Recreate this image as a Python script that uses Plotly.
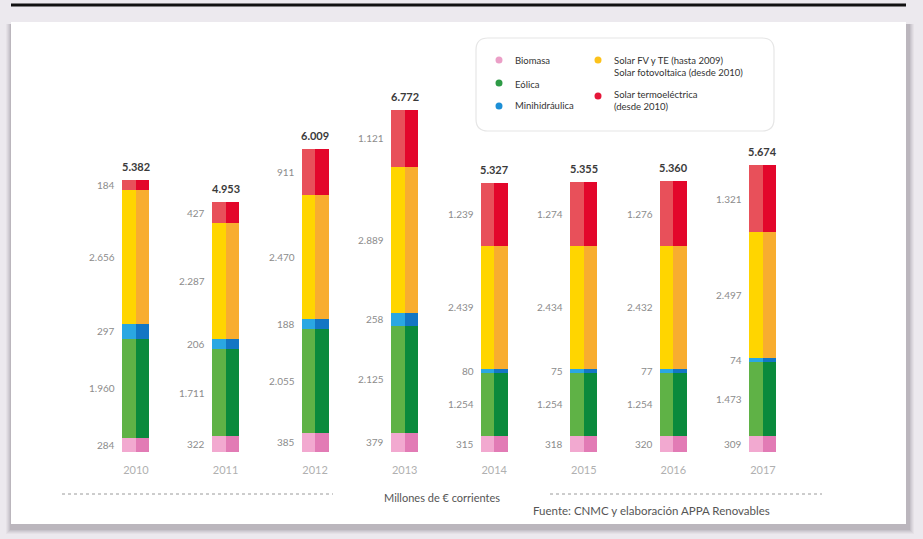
import plotly.graph_objects as go

# Retribución por tecnología, millones de € corrientes
years = ["2010", "2011", "2012", "2013", "2014", "2015", "2016", "2017"]
biomasa = [284, 322, 385, 379, 315, 318, 320, 309]
eolica = [1960, 1711, 2055, 2125, 1254, 1254, 1254, 1473]
minihidraulica = [297, 206, 188, 258, 80, 75, 77, 74]
solar_fv = [2656, 2287, 2470, 2889, 2439, 2434, 2432, 2497]
solar_termo = [184, 427, 911, 1121, 1239, 1274, 1276, 1321]
totals = [5382, 4953, 6009, 6772, 5327, 5355, 5360, 5674]

series = [
    ("Biomasa", biomasa, "#f2a9d0", "#e27bb5"),
    ("Eólica", eolica, "#5fb246", "#0a8a3c"),
    ("Minihidráulica", minihidraulica, "#2aa7e2", "#1376c4"),
    ("Solar FV", solar_fv, "#ffd500", "#f8ad2f"),
    ("Solar termoeléctrica", solar_termo, "#e8505a", "#e3062b"),
]

W, H = 923, 539
FONT = "Lato, 'Open Sans', sans-serif"


def px(x):
    return x / W


def py(y):
    return 1 - y / H


xs = list(range(len(years)))
half = 0.1507  # half bar width in axis units

fig = go.Figure()
bases = [0] * len(years)
annotations = []
for name, vals, c_left, c_right in series:
    for off, col in ((-half, c_left), (0, c_right)):
        fig.add_trace(go.Bar(
            x=xs, y=vals, base=list(bases), width=half, offset=off,
            marker=dict(color=col, line=dict(width=0)),
            name=name, showlegend=False, hoverinfo="skip",
        ))
    for i, v in enumerate(vals):
        annotations.append(dict(
            x=i - half, y=bases[i] + v / 2, xref="x", yref="y",
            text=f"{v:,}".replace(",", "."), showarrow=False,
            xanchor="right", yanchor="middle", xshift=-5,
            font=dict(family=FONT, size=10, color="#8c8c8c"),
        ))
    bases = [b + v for b, v in zip(bases, vals)]

for i, t in enumerate(totals):
    annotations.append(dict(
        x=i, y=t, xref="x", yref="y", text=f"<b>{t:,}</b>".replace(",", "."),
        showarrow=False, xanchor="center", yanchor="bottom", yshift=5,
        font=dict(family=FONT, size=11, color="#3a3a3a"),
    ))

shapes = []
# card shadow
for k, op in enumerate([0.05, 0.06, 0.07, 0.09, 0.11]):
    g = 5 - k
    shapes.append(dict(
        type="rect", xref="paper", yref="paper", layer="below",
        x0=px(11 - g), x1=px(906 + g + 3), y0=py(22 + 2), y1=py(524 + g + 5),
        fillcolor=f"rgba(90,85,95,{op})", line=dict(width=0),
    ))
# white card
shapes.append(dict(
    type="rect", xref="paper", yref="paper", layer="below",
    x0=px(11), x1=px(906), y0=py(22), y1=py(524),
    fillcolor="white", line=dict(width=0),
))
# top rule
shapes.append(dict(
    type="line", xref="paper", yref="paper",
    x0=px(11), x1=px(906), y0=py(5), y1=py(5),
    line=dict(color="#111111", width=3),
))
# legend box with rounded corners
lx0, lx1, ly0, ly1, r = 476, 774, 38, 131, 12
path = (f"M {px(lx0 + r)},{py(ly0)} L {px(lx1 - r)},{py(ly0)} "
        f"Q {px(lx1)},{py(ly0)} {px(lx1)},{py(ly0 + r)} "
        f"L {px(lx1)},{py(ly1 - r)} Q {px(lx1)},{py(ly1)} {px(lx1 - r)},{py(ly1)} "
        f"L {px(lx0 + r)},{py(ly1)} Q {px(lx0)},{py(ly1)} {px(lx0)},{py(ly1 - r)} "
        f"L {px(lx0)},{py(ly0 + r)} Q {px(lx0)},{py(ly0)} {px(lx0 + r)},{py(ly0)} Z")
shapes.append(dict(type="path", xref="paper", yref="paper", path=path,
                   fillcolor="white", line=dict(color="#e6e6e6", width=1.2)))

legend_items = [
    (499, 60, "#eb9fc7", "Biomasa", 61),
    (499, 83, "#2e9b46", "Eólica", 84),
    (499, 106, "#1c8fd6", "Minihidráulica", 106),
    (598, 60, "#fcc21b", "Solar FV y TE (hasta 2009)<br>Solar fotovoltaica (desde 2010)", 66),
    (598, 96, "#e5173a", "Solar termoeléctrica<br>(desde 2010)", 100),
]
for cx, cy, col, label, ty in legend_items:
    shapes.append(dict(
        type="circle", xref="paper", yref="paper",
        x0=px(cx - 3.5), x1=px(cx + 3.5), y0=py(cy - 3.5), y1=py(cy + 3.5),
        fillcolor=col, line=dict(width=0),
    ))
    annotations.append(dict(
        x=px(cx + 14), y=py(ty), xref="paper", yref="paper", text=label,
        showarrow=False, xanchor="left", yanchor="middle", align="left",
        font=dict(family=FONT, size=9.5, color="#333333"),
    ))

# dotted separators and footer
for x0, x1 in ((62, 333), (550, 822)):
    shapes.append(dict(
        type="line", xref="paper", yref="paper",
        x0=px(x0), x1=px(x1), y0=py(494), y1=py(494),
        line=dict(color="#9a9a9a", width=1, dash="dot"),
    ))
annotations.append(dict(
    x=px(442), y=py(497), xref="paper", yref="paper",
    text="Millones de € corrientes", showarrow=False,
    xanchor="center", yanchor="middle",
    font=dict(family=FONT, size=11, color="#555555"),
))
annotations.append(dict(
    x=px(531), y=py(510), xref="paper", yref="paper",
    text="Fuente: CNMC y elaboración APPA Renovables", showarrow=False,
    xanchor="left", yanchor="middle",
    font=dict(family=FONT, size=11.5, color="#555555"),
))

fig.update_layout(
    width=W, height=H,
    margin=dict(l=0, r=0, t=0, b=0),
    paper_bgcolor="#ece9ee",
    plot_bgcolor="rgba(0,0,0,0)",
    barmode="overlay",
    bargap=0,
    shapes=shapes,
    annotations=annotations,
    xaxis=dict(
        range=[-1.518, 8.787], tickvals=xs, ticktext=years,
        showgrid=False, zeroline=False, showline=False, ticks="",
        tickfont=dict(family=FONT, size=11, color="#b0b0b0"),
        ticklabelstandoff=10, fixedrange=True,
    ),
    yaxis=dict(
        domain=[(H - 452) / H, 1], range=[0, 452 / 0.0505],
        visible=False, fixedrange=True,
    ),
)

fig.write_html("out.html")
